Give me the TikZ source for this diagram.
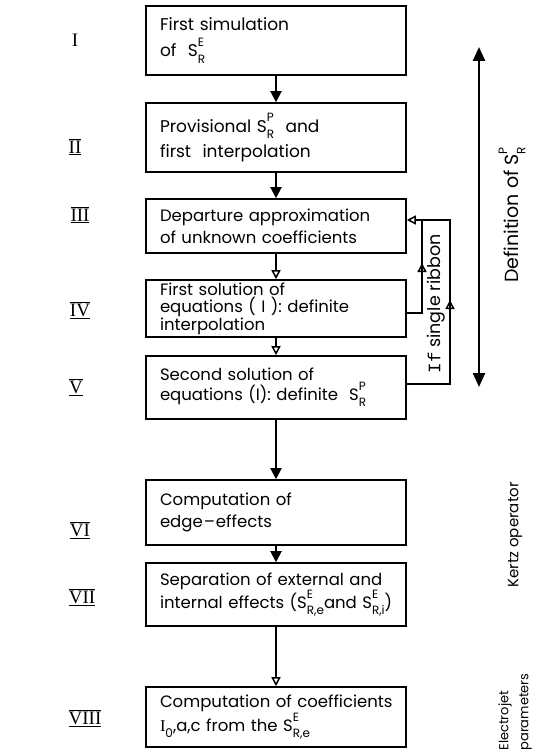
\documentclass[tikz,border=0pt]{standalone}
\usepackage{fontspec}
\setmainfont{Poppins}
\newfontfamily\numfont{Liberation Serif}
\newfontfamily\ttfnt{Liberation Mono}
\usetikzlibrary{arrows.meta,calc}
\newcommand{\smallsz}{\fontsize{12}{12}\selectfont}
\newcommand{\Sx}[2]{S\rlap{\raisebox{0.6em}{\smallsz #1}}\raisebox{-0.36em}{\smallsz #2}}
\newcommand{\rn}[1]{\underline{$\overline{\mbox{#1}}$}}
\tikzset{
  stepbox/.style={draw, line width=1.6pt, minimum width=260pt, text width=232pt,
    align=left, inner xsep=14pt, inner ysep=0pt, font=\fontsize{16.5}{22}\selectfont},
  fillarrow/.style={line width=2pt, -{Triangle[width=11pt,length=11pt]}},
  openarrow/.style={line width=1.5pt, -{Triangle[open,width=9pt,length=9pt]}},
  loopline/.style={line width=1.5pt},
  numstyle/.style={font=\numfont\fontsize{19}{19}\selectfont},
  sidelabel/.style={rotate=90, font=\fontsize{15}{18}\selectfont},
}
\begin{document}
\begin{tikzpicture}[x=1pt,y=1pt]
\useasboundingbox (0,0) rectangle (539,-752);
% boxes
\node[stepbox, minimum height=69pt, font=\fontsize{17}{26}\selectfont] (b1) at (276,-40.5) {First simulation\\of~~\Sx{E}{R}};
\node[stepbox, minimum height=69pt, font=\fontsize{17}{25}\selectfont] (b2) at (276,-137.5) {Provisional \Sx{P}{R}~~and\\first~~interpolation};
\node[stepbox, minimum height=54pt] (b3) at (276,-226) {\mbox{Departure approximation}\\\mbox{of unknown coefficients}};
\node[stepbox, minimum height=57pt, font=\fontsize{16.5}{17.5}\selectfont] (b4) at (276,-308.5) {First solution of\\\mbox{equations ( I ): definite}\\interpolation};
\node[stepbox, minimum height=63pt, font=\fontsize{16.5}{20}\selectfont] (b5) at (276,-387.5) {Second solution of\\\mbox{equations (I): definite~~\Sx{P}{R}}};
\node[stepbox, minimum height=65pt] (b6) at (276,-512.5) {Computation of\\edge\kern1pt--\kern1pt effects};
\node[stepbox, minimum height=63pt] (b7) at (276,-594.5) {\mbox{Separation of external and}\\\mbox{internal effects (\Sx{E}{R,e}and \Sx{E}{R,i})}};
\node[stepbox, minimum height=60pt] (b8) at (276,-717) {\mbox{Computation of coefficients}\\\mbox{{\numfont I}\raisebox{-0.36em}{\smallsz 0},a,c from the \Sx{E}{R,e}}};
% main arrows
\draw[fillarrow] (b1.south) -- (b2.north);
\draw[fillarrow] (b2.south) -- (b3.north);
\draw[openarrow] (b3.south) -- (b4.north);
\draw[openarrow] (b4.south) -- (b5.north);
\draw[fillarrow] (b5.south) -- (b6.north);
\draw[fillarrow] (b6.south) -- (b7.north);
\draw[openarrow] (b7.south) -- (b8.north);
% feedback loop
\coordinate (e3) at ($(b3.east)+(0,6)$);
\coordinate (e4) at ($(b4.east)+(0,-4.5)$);
\coordinate (e5) at ($(b5.east)+(0,3.5)$);
\coordinate (o1) at (450,-384);
\coordinate (o2) at (450,-220);
\coordinate (om) at (450,-300);
\coordinate (i1) at (422,-313);
\coordinate (i2) at (422,-220);
\coordinate (im) at (422,-263);
\draw[loopline] (e5) -- (o1) -- (o2) -- (i2);
\draw[openarrow] (i2) -- (e3);
\draw[loopline] (e4) -- (i1) -- (i2);
\draw[openarrow] (o1) -- (om);
\draw[openarrow] (i1) -- (im);
\node[rotate=90, font=\fontsize{17.5}{17.5}\selectfont] (rib) at (436,-304) {{\ttfnt If} single ribbon};
% big double arrow
\coordinate (dt) at (479,-47);
\coordinate (db) at (479,-387);
\draw[line width=2.4pt, {Triangle[width=12pt,length=14pt]}-{Triangle[width=12pt,length=14pt]}] (dt) -- (db);
% side labels
\node[sidelabel, font=\fontsize{19}{19}\selectfont] (ldef) at (512,-215) {Definition of \Sx{P}{R}};
\node[sidelabel] (lker) at (515,-535) {Kertz operator};
\node[sidelabel, align=left, font=\fontsize{13}{20}\selectfont] (lel) at (515,-712) {Electrojet\\parameters};
% roman numerals
\node[numstyle] (n1) at (75,-40) {I};
\node[numstyle] (n2) at (75,-147) {\rn{II}};
\node[numstyle] (n3) at (80,-215) {\rn{III}};
\node[numstyle] (n4) at (80,-310) {\rn{IV}};
\node[numstyle] (n5) at (76,-387) {\rn{V}};
\node[numstyle] (n6) at (80,-530) {\rn{VI}};
\node[numstyle] (n7) at (82,-597) {\rn{VII}};
\node[numstyle] (n8) at (85,-718) {\rn{VIII}};
\end{tikzpicture}
\end{document}
